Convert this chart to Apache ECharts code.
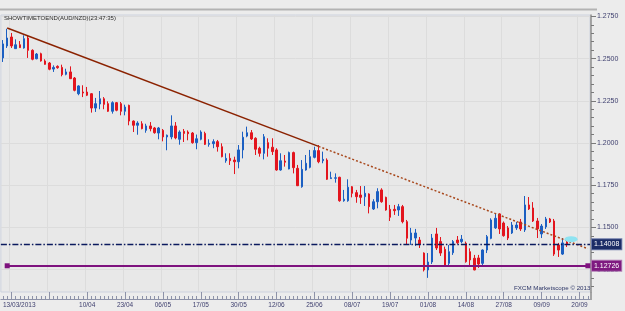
<!DOCTYPE html>
<html>
<head>
<meta charset="utf-8">
<script src="https://cdn.jsdelivr.net/npm/echarts@6/dist/echarts.min.js"></script>
<style>
  html, body { margin: 0; padding: 0; background: #ececec; }
  #chart { width: 625px; height: 311px; }
</style>
</head>
<body>
<div id="chart"></div>
<script>
// daily candles [open, close, low, high], one per weekday from 13/03/2013
var candles = [
  [1.2504, 1.2587, 1.2480, 1.2610], [1.2575, 1.2622, 1.2563, 1.2677], [1.2628, 1.2575, 1.2563, 1.2652],
  [1.2559, 1.2582, 1.2559, 1.2614], [1.2582, 1.2565, 1.2563, 1.2604], [1.2563, 1.2618, 1.2559, 1.2638],
  [1.2622, 1.2549, 1.2504, 1.2638], [1.2549, 1.2496, 1.2490, 1.2555], [1.2499, 1.2527, 1.2496, 1.2533],
  [1.2529, 1.2486, 1.2482, 1.2535], [1.2486, 1.2466, 1.2464, 1.2496], [1.2474, 1.2437, 1.2431, 1.2480],
  [1.2438, 1.2448, 1.2421, 1.2460], [1.2454, 1.2446, 1.2440, 1.2460], [1.2448, 1.2405, 1.2395, 1.2464],
  [1.2407, 1.2421, 1.2401, 1.2440], [1.2421, 1.2381, 1.2379, 1.2454], [1.2385, 1.2312, 1.2306, 1.2391],
  [1.2292, 1.2338, 1.2283, 1.2342], [1.2302, 1.2296, 1.2272, 1.2342], [1.2302, 1.2283, 1.2278, 1.2332],
  [1.2292, 1.2207, 1.2180, 1.2296], [1.2207, 1.2233, 1.2184, 1.2267], [1.2231, 1.2262, 1.2200, 1.2308],
  [1.2262, 1.2229, 1.2200, 1.2272], [1.2233, 1.2188, 1.2184, 1.2247], [1.2188, 1.2239, 1.2174, 1.2247],
  [1.2239, 1.2194, 1.2188, 1.2243], [1.2233, 1.2188, 1.2164, 1.2243], [1.2188, 1.2213, 1.2164, 1.2227],
  [1.2223, 1.2130, 1.2105, 1.2227], [1.2130, 1.2105, 1.2065, 1.2134], [1.2105, 1.2118, 1.2049, 1.2129],
  [1.2114, 1.2085, 1.2081, 1.2129], [1.2075, 1.2101, 1.2061, 1.2114], [1.2101, 1.2085, 1.2069, 1.2124],
  [1.2089, 1.2061, 1.2055, 1.2095], [1.2059, 1.2089, 1.2022, 1.2095], [1.2075, 1.2036, 1.2010, 1.2083],
  [1.2036, 1.2046, 1.1957, 1.2050], [1.2036, 1.2101, 1.2022, 1.2164], [1.2101, 1.2030, 1.2022, 1.2124],
  [1.2022, 1.2065, 1.1990, 1.2075], [1.2069, 1.2057, 1.2006, 1.2083], [1.2065, 1.2055, 1.2016, 1.2075],
  [1.2059, 1.2002, 1.1996, 1.2065], [1.2002, 1.2025, 1.1963, 1.2050], [1.2022, 1.2065, 1.2016, 1.2075],
  [1.2057, 1.1992, 1.1988, 1.2067], [1.1992, 1.1998, 1.1978, 1.2022], [1.1996, 1.2008, 1.1969, 1.2022],
  [1.2008, 1.1978, 1.1949, 1.2018], [1.1978, 1.1919, 1.1915, 1.1998], [1.1895, 1.1909, 1.1883, 1.1939],
  [1.1909, 1.1895, 1.1870, 1.1939], [1.1899, 1.1889, 1.1816, 1.1919], [1.1889, 1.1959, 1.1850, 1.1988],
  [1.1959, 1.2034, 1.1909, 1.2067], [1.2041, 1.2061, 1.2034, 1.2097], [1.2061, 1.2024, 1.2018, 1.2077],
  [1.2028, 1.1963, 1.1929, 1.2034], [1.1969, 1.1939, 1.1919, 1.1978], [1.1939, 1.2037, 1.1903, 1.2053],
  [1.2002, 1.1969, 1.1919, 1.2028], [1.1975, 1.1949, 1.1929, 1.2028], [1.1959, 1.1840, 1.1836, 1.1969],
  [1.1840, 1.1895, 1.1836, 1.1939], [1.1893, 1.1886, 1.1860, 1.1929], [1.1846, 1.1943, 1.1844, 1.1949],
  [1.1943, 1.1854, 1.1820, 1.1949], [1.1850, 1.1747, 1.1745, 1.1870], [1.1741, 1.1844, 1.1735, 1.1899],
  [1.1840, 1.1880, 1.1836, 1.1929], [1.1856, 1.1919, 1.1850, 1.1959], [1.1915, 1.1955, 1.1909, 1.1978],
  [1.1955, 1.1889, 1.1880, 1.1988], [1.1895, 1.1903, 1.1880, 1.1949], [1.1899, 1.1785, 1.1781, 1.1909],
  [1.1789, 1.1794, 1.1787, 1.1830], [1.1791, 1.1794, 1.1765, 1.1820], [1.1797, 1.1658, 1.1652, 1.1800],
  [1.1658, 1.1667, 1.1652, 1.1722], [1.1658, 1.1738, 1.1652, 1.1785], [1.1741, 1.1702, 1.1678, 1.1745],
  [1.1706, 1.1682, 1.1646, 1.1722], [1.1692, 1.1678, 1.1639, 1.1745], [1.1682, 1.1702, 1.1627, 1.1745],
  [1.1698, 1.1623, 1.1583, 1.1702], [1.1609, 1.1652, 1.1603, 1.1667], [1.1652, 1.1712, 1.1613, 1.1732],
  [1.1722, 1.1652, 1.1646, 1.1732], [1.1678, 1.1603, 1.1599, 1.1682], [1.1607, 1.1560, 1.1538, 1.1633],
  [1.1607, 1.1599, 1.1574, 1.1633], [1.1603, 1.1623, 1.1568, 1.1639], [1.1623, 1.1534, 1.1524, 1.1633],
  [1.1534, 1.1436, 1.1396, 1.1544], [1.1425, 1.1467, 1.1396, 1.1497], [1.1437, 1.1467, 1.1390, 1.1491],
  [1.1425, 1.1402, 1.1378, 1.1443], [1.1348, 1.1248, 1.1239, 1.1352], [1.1248, 1.1295, 1.1201, 1.1348],
  [1.1295, 1.1437, 1.1283, 1.1461], [1.1461, 1.1378, 1.1366, 1.1497], [1.1416, 1.1348, 1.1331, 1.1443],
  [1.1370, 1.1277, 1.1267, 1.1386], [1.1287, 1.1356, 1.1277, 1.1396], [1.1350, 1.1416, 1.1337, 1.1425],
  [1.1425, 1.1409, 1.1402, 1.1449], [1.1416, 1.1430, 1.1406, 1.1455], [1.1406, 1.1297, 1.1291, 1.1416],
  [1.1356, 1.1307, 1.1267, 1.1376], [1.1317, 1.1248, 1.1246, 1.1337], [1.1319, 1.1283, 1.1260, 1.1337],
  [1.1287, 1.1366, 1.1277, 1.1370], [1.1366, 1.1445, 1.1348, 1.1455], [1.1435, 1.1544, 1.1430, 1.1554],
  [1.1497, 1.1554, 1.1491, 1.1583], [1.1580, 1.1491, 1.1461, 1.1584], [1.1526, 1.1451, 1.1445, 1.1535],
  [1.1497, 1.1437, 1.1425, 1.1508], [1.1467, 1.1514, 1.1461, 1.1532], [1.1497, 1.1514, 1.1485, 1.1532],
  [1.1532, 1.1491, 1.1479, 1.1550], [1.1485, 1.1633, 1.1473, 1.1686], [1.1633, 1.1609, 1.1603, 1.1680],
  [1.1615, 1.1538, 1.1532, 1.1650], [1.1538, 1.1491, 1.1437, 1.1556], [1.1461, 1.1508, 1.1437, 1.1520],
  [1.1503, 1.1550, 1.1491, 1.1562], [1.1550, 1.1532, 1.1526, 1.1556], [1.1538, 1.1342, 1.1331, 1.1550],
  [1.1396, 1.1366, 1.1325, 1.1408], [1.1342, 1.1408, 1.1337, 1.1437], [1.1414, 1.1402, 1.1384, 1.1432]
];

var dayCount = 140;
var labelDays = ['13/03/2013', '10/04', '23/04', '06/05', '17/05', '30/05', '12/06', '25/06',
                 '08/07', '19/07', '01/08', '14/08', '27/08', '09/09', '20/09'];
var yLabelValues = [1.125, 1.15, 1.175, 1.2, 1.225, 1.25, 1.275];
var yMin = 1.11173, yMax = 1.27583;

var resistance = 1.14008;
var support = 1.12726;
var trendStart = [1, 1.2681];
var trendBreak = [75, 1.1980];
var trendEnd = [139, 1.1374];
var marker = [135, 1.1430];

// weekday categories
var dates = [];
var d = new Date(2013, 2, 13);
while (dates.length < dayCount) {
    var wd = d.getDay();
    if (wd !== 0 && wd !== 6) {
        var s = ('0' + d.getDate()).slice(-2) + '/' + ('0' + (d.getMonth() + 1)).slice(-2);
        dates.push(dates.length === 0 ? s + '/2013' : s);
    }
    d.setDate(d.getDate() + 1);
}

var minorTicks = [];
for (var t = 1.115; t < 1.2755; t += 0.005) {
    minorTicks.push(Math.round(t * 1000) / 1000);
}

function isMajor(i) {
    return i >= 2 && (i - 2) % 9 === 0;
}

var axisColor = '#8d92a8';
var textColor = '#3e3f6e';
var font = 'Liberation Sans';

var chart = echarts.init(document.getElementById('chart'), null, { renderer: 'canvas' });

var option = {
    animation: false,
    backgroundColor: '#ececec',
    title: [{
        text: 'SHOWTIMETOEND(AUD/NZD)(23:47:35)',
        left: 4, top: 15, padding: 0,
        textStyle: { fontSize: 6, fontWeight: 'normal', color: '#2b2b2b', fontFamily: font }
    }, {
        text: 'FXCM Marketscope © 2013',
        left: 514, top: 285, padding: 0,
        textStyle: { fontSize: 6.2, fontWeight: 'normal', color: '#2c3566', fontFamily: font }
    }],
    grid: {
        left: -3.6, right: 35, top: 15, bottom: 19,
        show: true,
        backgroundColor: '#e8e8e8',
        borderColor: '#cdd2de',
        borderWidth: 1
    },
    xAxis: [{
        type: 'category',
        data: dates,
        position: 'bottom',
        offset: 7,
        boundaryGap: true,
        axisLine: { show: true, lineStyle: { color: axisColor } },
        axisTick: {
            show: true, inside: true, length: 7, alignWithLabel: true,
            interval: function (i) { return isMajor(i); },
            lineStyle: { color: axisColor }
        },
        axisLabel: {
            interval: function (i, v) { return labelDays.indexOf(v) >= 0; },
            margin: 3, fontSize: 6.5, color: textColor, fontFamily: font,
            alignMinLabel: 'left'
        },
        splitLine: {
            show: true,
            interval: function (i) { return isMajor(i); },
            lineStyle: { color: '#dcdcdc' }
        }
    }, {
        type: 'category',
        data: dates,
        position: 'bottom',
        offset: 7,
        boundaryGap: true,
        axisLine: { show: false },
        axisTick: {
            show: true, inside: true, length: 3, alignWithLabel: true, interval: 0,
            lineStyle: { color: axisColor }
        },
        axisLabel: { show: false },
        splitLine: { show: false }
    }],
    yAxis: [{
        type: 'value',
        position: 'right',
        min: yMin, max: yMax,
        offset: 1,
        axisLine: { show: true, lineStyle: { color: '#8e8e8e', width: 1.5 } },
        axisTick: { show: true, length: 3, customValues: minorTicks, lineStyle: { color: '#7a7a7a' } },
        axisLabel: {
            customValues: yLabelValues,
            formatter: function (v) { return v.toFixed(4); },
            margin: 6, fontSize: 7, color: textColor, fontFamily: font
        },
        splitLine: { show: false }
    }, {
        type: 'value',
        position: 'right',
        min: yMin, max: yMax,
        offset: 1,
        axisLine: { show: false },
        axisTick: { show: true, length: 5, customValues: yLabelValues, lineStyle: { color: '#7a7a7a' } },
        axisLabel: { show: false },
        splitLine: { show: true, lineStyle: { color: '#dcdcdc' } }
    }],
    graphic: [{
        type: 'line',
        shape: { x1: 0, y1: 9.5, x2: 597, y2: 9.5 },
        style: { stroke: '#b3b3b3', lineWidth: 2 }
    }, {
        type: 'line',
        shape: { x1: 591, y1: 292, x2: 591, y2: 300 },
        style: { stroke: '#8e8e8e', lineWidth: 1.5 }
    }],
    series: [{
        type: 'candlestick',
        xAxisIndex: 0,
        yAxisIndex: 0,
        data: candles,
        barWidth: 2,
        itemStyle: {
            color: '#1b5fc2',
            color0: '#e3151e',
            borderColor: '#1b5fc2',
            borderColor0: '#e3151e',
            borderWidth: 1
        },
        markLine: {
            silent: true,
            symbol: ['none', 'none'],
            label: { show: false },
            data: [
                [{ coord: trendStart, lineStyle: { color: '#8b2200', width: 1.5, type: 'solid' } },
                 { coord: trendBreak }],
                [{ coord: trendBreak, lineStyle: { color: '#a8481c', width: 1.5, type: [2, 2] } },
                 { coord: trendEnd }],
                {
                    yAxis: resistance,
                    lineStyle: { color: '#0b1a5e', width: 1.3, type: [6, 2, 1.5, 2] },
                    label: {
                        show: true, position: 'end', distance: 2,
                        formatter: resistance.toFixed(5),
                        color: '#ffffff', fontSize: 7, fontFamily: font,
                        backgroundColor: '#1b2c66', borderColor: '#6c7aa8', borderWidth: 1,
                        padding: [2, 2, 1, 2]
                    }
                },
                [{
                    coord: [1, support], symbol: 'rect', symbolSize: 5,
                    lineStyle: { color: '#7e127e', width: 2, type: 'solid' },
                    itemStyle: { color: '#7e127e' },
                    label: {
                        show: true, position: 'end', distance: 4,
                        formatter: support.toFixed(5),
                        color: '#ffffff', fontSize: 7, fontFamily: font,
                        backgroundColor: '#7e1a80', borderColor: '#b07ab2', borderWidth: 1,
                        padding: [2, 2, 1, 2]
                    }
                }, { coord: [139, support], symbol: 'rect', symbolSize: 5 }]
            ]
        },
        markPoint: {
            silent: true,
            label: { show: false },
            data: [{
                coord: marker, symbol: 'circle', symbolSize: [13, 6],
                itemStyle: { color: '#8ee3f1' }
            }]
        }
    }]
};

chart.setOption(option);
</script>
</body>
</html>
